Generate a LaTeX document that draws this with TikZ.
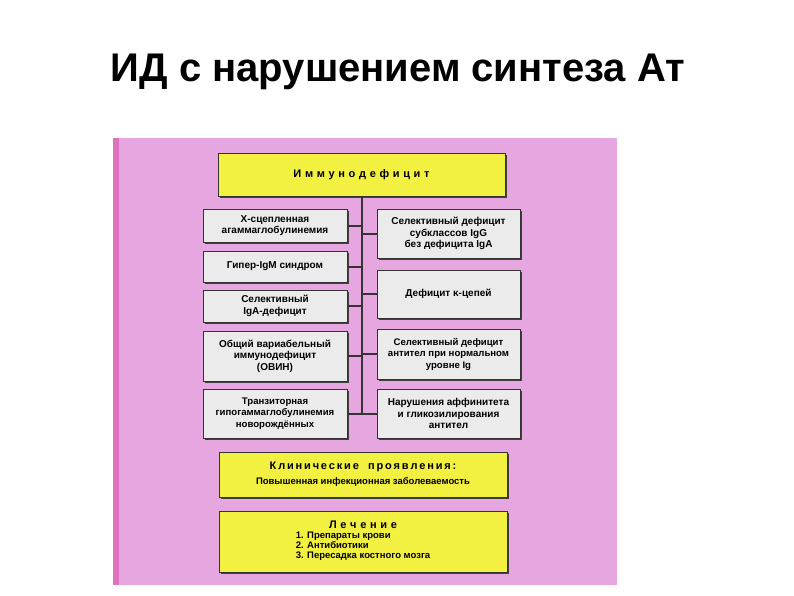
\documentclass[tikz,border=0pt]{standalone}
\usepackage{fontspec}
\setmainfont{Liberation Sans}
\definecolor{pinkbg}{HTML}{E6A6DF}
\definecolor{pinkedge}{HTML}{E070C0}
\definecolor{yel}{HTML}{F2F040}
\definecolor{greybox}{HTML}{EBEBEB}
\begin{document}
\begin{tikzpicture}[x=1pt,y=-1pt,
  box/.style={draw=black!80,line width=0.8pt,fill=greybox,align=center,font=\fontsize{10}{11.5}\selectfont\bfseries,inner sep=0pt},
  ybox/.style={draw=black!80,line width=0.8pt,fill=yel,align=center,inner sep=0pt},
  conn/.style={line width=2pt,draw=black!80}]
\useasboundingbox (0,0) rectangle (794,595);
\fill[white] (0,0) rectangle (794,595);
\node[font=\fontsize{40}{44}\selectfont\bfseries] (title) at (398,72) {ИД с нарушением синтеза Ат};
\fill[pinkbg] (113,138) rectangle (617,585);
\fill[pinkedge] (113,138) rectangle (119,585);
\foreach \a/\b/\c/\d in {218/153/505/196,203/209/347/242,203/251/347/282,203/290/347/322,203/331/347/381,203/389/347/438,377/209/520/258,377/270/520/318,377/329/520/379,377/389/520/438,219/452/507/497,219/511/507/572}
  \fill[black!75] (\a+2,\b+2) rectangle (\c+2,\d+2);
\node[ybox,minimum width=287pt,minimum height=43pt,font=\fontsize{11}{12}\selectfont\bfseries] (top) at (361.5,174.5) {И\,\,м\,\,м\,\,у\,\,н\,\,о\,\,д\,\,е\,\,ф\,\,и\,\,ц\,\,и\,\,т};
\coordinate (trunk) at (362,413);
\draw[conn] (top.south -| trunk) -- (trunk);
\node[box,minimum width=144pt,minimum height=33pt] (l1) at (275,225.5) {Х-сцепленная\\агаммаглобулинемия};
\node[box,minimum width=144pt,minimum height=31pt] (l2) at (275,266.5) {Гипер-IgM синдром};
\node[box,minimum width=144pt,minimum height=32pt] (l3) at (275,306) {Селективный\\IgA-дефицит};
\node[box,minimum width=144pt,minimum height=50pt] (l4) at (275,356) {Общий вариабельный\\иммунодефицит\\(ОВИН)};
\node[box,minimum width=144pt,minimum height=49pt,font=\fontsize{9.6}{11.5}\selectfont\bfseries] (l5) at (275,413.5) {Транзиторная\\гипогаммаглобулинемия\\новорождённых};
\node[box,minimum width=143pt,minimum height=49pt] (r1) at (448.5,233.5) {Селективный дефицит\\субклассов IgG\\без дефицита IgA};
\node[box,minimum width=143pt,minimum height=48pt] (r2) at (448.5,294) {Дефицит κ-цепей};
\node[box,minimum width=143pt,minimum height=50pt,font=\fontsize{9.6}{11.5}\selectfont\bfseries] (r3) at (448.5,354) {Селективный дефицит\\антител при нормальном\\уровне Ig};
\node[box,minimum width=143pt,minimum height=49pt] (r4) at (448.5,413.5) {Нарушения аффинитета\\и гликозилирования\\антител};
\foreach \n in {l1,l2,l3,l4,l5,r1,r2,r3,r4}
  \draw[conn] (\n) -- (\n -| trunk);
\node[ybox,minimum width=288pt,minimum height=45pt] (clin) at (363,474.5) {{\fontsize{11}{12}\selectfont\bfseries К\,л\,и\,н\,и\,ч\,е\,с\,к\,и\,е\ \ \ п\,р\,о\,я\,в\,л\,е\,н\,и\,я\,:}\\[3pt]{\fontsize{9.5}{11}\selectfont\bfseries Повышенная инфекционная заболеваемость}};
\node[ybox,minimum width=288pt,minimum height=61pt] (lech) at (363,541.5) {{\fontsize{11}{12}\selectfont\bfseries Л\,\,е\,\,ч\,\,е\,\,н\,\,и\,\,е}\\[0pt]
\begin{tabular}{@{}l@{}}\fontsize{9.5}{10.5}\selectfont\bfseries 1. Препараты крови\\[-2pt]\fontsize{9.5}{10.5}\selectfont\bfseries 2. Антибиотики\\[-2pt]\fontsize{9.5}{10.5}\selectfont\bfseries 3. Пересадка костного мозга\end{tabular}};
\end{tikzpicture}
\end{document}
